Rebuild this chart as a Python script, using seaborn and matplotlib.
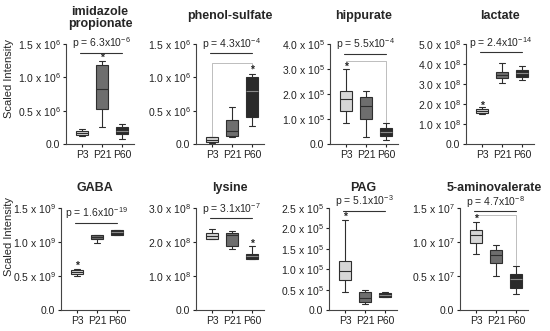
import numpy as np
import pandas as pd
import matplotlib
matplotlib.use("Agg")
import matplotlib.pyplot as plt
import seaborn as sns

sns.set_theme(style="ticks")
plt.rcParams['font.family'] = ['Liberation Sans', 'DejaVu Sans']
plt.rcParams['mathtext.fontset'] = 'custom'
plt.rcParams['mathtext.rm'] = 'Liberation Sans'
plt.rcParams['mathtext.it'] = 'Liberation Sans'
plt.rcParams['mathtext.default'] = 'regular'

# --- data (mantissa units, five-number summaries: min, q1, median, q3, max) ---
groups = ['P3', 'P21', 'P60']
titles = ['imidazole\npropionate', 'phenol-sulfate', 'hippurate', 'lactate',
          'GABA', 'lysine', 'PAG', '5-aminovalerate']
exponents = [6, 6, 5, 8, 9, 8, 5, 7]
y_max = [1.5, 1.5, 4.0, 5.0, 1.5, 3.0, 2.5, 1.5]
y_step = [0.5, 0.5, 1.0, 1.0, 0.5, 1.0, 0.5, 0.5]

p3_stats = [[0.12, 0.14, 0.16, 0.19, 0.22],
            [0.01, 0.03, 0.06, 0.10, 0.11],
            [0.82, 1.32, 1.78, 2.10, 2.99],
            [1.51, 1.56, 1.64, 1.76, 1.84],
            [0.50, 0.525, 0.56, 0.584, 0.61],
            [2.09, 2.09, 2.19, 2.26, 2.39],
            [0.43, 0.74, 0.96, 1.19, 2.21],
            [0.83, 0.99, 1.10, 1.18, 1.29]]
p21_stats = [[0.26, 0.53, 0.83, 1.19, 1.24],
             [0.11, 0.12, 0.19, 0.36, 0.56],
             [0.26, 0.99, 1.50, 1.89, 2.10],
             [3.06, 3.29, 3.45, 3.62, 4.06],
             [0.98, 1.045, 1.08, 1.11, 1.11],
             [1.79, 1.89, 2.21, 2.26, 2.33],
             [0.14, 0.19, 0.29, 0.43, 0.48],
             [0.50, 0.69, 0.81, 0.88, 0.95]]
p60_stats = [[0.08, 0.155, 0.20, 0.25, 0.30],
             [0.27, 0.40, 0.80, 1.00, 1.05],
             [0.16, 0.32, 0.49, 0.64, 0.84],
             [3.19, 3.36, 3.57, 3.70, 3.90],
             [1.10, 1.11, 1.15, 1.17, 1.17],
             [1.50, 1.51, 1.59, 1.64, 1.88],
             [0.31, 0.33, 0.37, 0.41, 0.45],
             [0.24, 0.32, 0.45, 0.53, 0.64]]

p_mant = ['6.3', '4.3', '5.5', '2.4', '1.6', '3.1', '5.1', '4.7']
p_exp = ['-6', '-4', '-4', '-14', '-19', '-7', '-3', '-8']
p_line_y = [1.37, 1.36, 3.60, 4.59, 1.28, 2.70, 2.43, 1.45]
star_group = [1, 2, 0, 0, 0, 2, 0, 0]
star_y = [1.29, 1.11, 3.10, 1.93, 0.65, 1.95, 2.29, 1.34]
# faint brackets: (height, left foot, right foot) or None
brackets = [None, (1.22, 0.12, 1.13), (3.34, 3.20, 0.88), None,
            None, None, None, (1.39, 1.37, 0.66)]

palette = ['#d6d6d6', '#6e6e6e', '#2a2a2a']
edge = '#2e2e2e'

# axes layout in pixels (550 x 331 figure)
W, H = 550, 331
p3_center_px = [82, 212, 346, 482, 77, 212, 345, 476]
row_top = [44, 44, 44, 44, 208, 208, 208, 208]
row_bot = [144, 144, 144, 144, 310, 310, 310, 310]
xlo, xhi = -0.8, 2.6
unit_px = 20

fig = plt.figure(figsize=(5.5, 3.31), dpi=100)

for i in range(8):
    left = p3_center_px[i] + xlo * unit_px
    width = (xhi - xlo) * unit_px
    ax = fig.add_axes([left / W, 1 - row_bot[i] / H, width / W,
                       (row_bot[i] - row_top[i]) / H])

    vals = p3_stats[i] + p21_stats[i] + p60_stats[i]
    grp = [g for g in groups for _ in range(5)]
    df = pd.DataFrame({'group': grp, 'value': vals})

    sns.boxplot(data=df, x='group', y='value', hue='group', palette=palette,
                order=groups, hue_order=groups, legend=False, width=0.62,
                whis=(0, 100), linecolor=edge, linewidth=0.8,
                showfliers=False, capwidths=0.32, ax=ax)

    # lighter median on the dark box
    for ln in ax.lines:
        xd, yd = np.asarray(ln.get_xdata()), np.asarray(ln.get_ydata())
        if len(xd) == 2 and yd[0] == yd[1] and abs(yd[0] - p60_stats[i][2]) < 1e-9 \
                and abs(xd.mean() - 2) < 0.01:
            ln.set_color('#8a8a8a')

    ax.set_xlim(xlo, xhi)
    ax.set_ylim(0, y_max[i])
    ticks = np.arange(0, y_max[i] + 1e-9, y_step[i])
    ax.set_yticks(ticks)
    labels = ['0.0' if t == 0 else f'{t:.1f} x 10$^{{{exponents[i]}}}$' for t in ticks]
    ax.set_yticklabels(labels, fontsize=7.5)
    ax.set_xticks([0, 1, 2])
    ax.set_xticklabels(groups, fontsize=7.5)
    ax.set_xlabel('')
    ax.set_ylabel('')
    ax.tick_params(length=2.5, width=0.8, pad=1.5, colors='#222222')
    sns.despine(ax=ax)
    for s in ['left', 'bottom']:
        ax.spines[s].set_linewidth(0.8)
        ax.spines[s].set_color('#444444')

    # faint bracket
    b = brackets[i]
    if b is not None:
        ax.plot([0, 0, 2, 2], [b[1], b[0], b[0], b[2]], color='#bdbdbd',
                lw=0.7, zorder=1, clip_on=False)

    # p-value line and label
    ax.plot([-0.1, 2.0], [p_line_y[i], p_line_y[i]], color='#333333', lw=0.8,
            clip_on=False)
    ax.text(0.95, p_line_y[i] + y_max[i] * 0.015,
            f'p = {p_mant[i]}x10$^{{{p_exp[i]}}}$', ha='center', va='bottom',
            fontsize=7.5, clip_on=False)

    # significance star
    ax.text(star_group[i], star_y[i], '*', ha='center', va='center',
            fontsize=7.5, fontweight='bold')

    # title
    cx = (left + width / 2) / W
    ty = 18 if i == 0 else (16 if i < 4 else 188)
    fig.text(cx, 1 - ty / H, titles[i], ha='center', va='center',
             fontsize=9, fontweight='bold', linespacing=1.1)

fig.text(9 / W, 1 - 78 / H, 'Scaled Intensity', rotation=90,
         ha='center', va='center', fontsize=8)
fig.text(9 / W, 1 - 237 / H, 'Scaled Intensity', rotation=90,
         ha='center', va='center', fontsize=8)

fig.savefig('out.png', dpi=100)
